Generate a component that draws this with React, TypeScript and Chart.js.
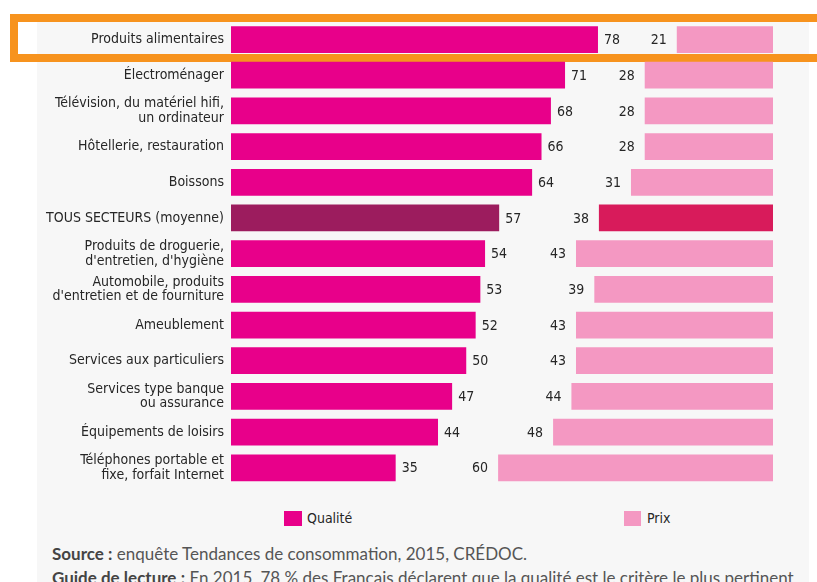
import React, { useEffect, useRef } from "react";
import { Chart, registerables } from "chart.js";

Chart.register(...registerables);

const categories: (string | string[])[] = [
  "Produits alimentaires",
  "Électroménager",
  ["Télévision, du matériel hifi,", "un ordinateur"],
  "Hôtellerie, restauration",
  "Boissons",
  "TOUS SECTEURS (moyenne)",
  ["Produits de droguerie,", "d'entretien, d'hygiène"],
  ["Automobile, produits", "d'entretien et de fourniture"],
  "Ameublement",
  "Services aux particuliers",
  ["Services type banque", "ou assurance"],
  "Équipements de loisirs",
  ["Téléphones portable et", "fixe, forfait Internet"],
];

const qualite = [78, 71, 68, 66, 64, 57, 54, 53, 52, 50, 47, 44, 35];
const prix = [21, 28, 28, 28, 31, 38, 43, 39, 43, 43, 44, 48, 60];
const highlightIndex = 5;

const seriesNames = ["Qualité", "Prix"];
const sourceLabel = "Source\u202F:";
const sourceText = " enquête Tendances de consommation, 2015, CRÉDOC.";
const guideLabel = "Guide de lecture\u202F:";
const guideText =
  " En 2015, 78 % des Français déclarent que la qualité est le critère le plus pertinent";

const COL_Q = "#e8008a";
const COL_Q_HI = "#9c1c5e";
const COL_P = "#f498c2";
const COL_P_HI = "#d81b5b";
const FONT = '"Liberation Sans Narrow", "DejaVu Sans Condensed", "Arial Narrow", sans-serif';
const TEXT_COL = "#262626";

const valueLabels = {
  id: "valueLabels",
  afterDatasetsDraw(chart: any) {
    const ctx = chart.ctx;
    ctx.save();
    ctx.font = `14px ${FONT}`;
    ctx.fillStyle = TEXT_COL;
    ctx.textBaseline = "middle";
    chart.data.datasets.forEach((ds: any, di: number) => {
      const meta = chart.getDatasetMeta(di);
      meta.data.forEach((bar: any, i: number) => {
        const v = ds.data[i];
        if (di === 0) {
          ctx.textAlign = "left";
          ctx.fillText(String(v), bar.x + 6, bar.y + 1);
        } else {
          ctx.textAlign = "right";
          ctx.fillText(String(v), bar.x - 10, bar.y + 1);
        }
      });
    });
    ctx.restore();
  },
};

export default function App() {
  const canvasRef = useRef<HTMLCanvasElement | null>(null);

  useEffect(() => {
    if (!canvasRef.current) return;
    const chart = new Chart(canvasRef.current, {
      type: "bar",
      data: {
        labels: categories as any,
        datasets: [
          {
            label: seriesNames[0],
            data: qualite,
            xAxisID: "x",
            backgroundColor: qualite.map((_, i) => (i === highlightIndex ? COL_Q_HI : COL_Q)),
            grouped: false,
            barPercentage: 0.75,
            categoryPercentage: 1,
          } as any,
          {
            label: seriesNames[1],
            data: prix,
            xAxisID: "x2",
            backgroundColor: prix.map((_, i) => (i === highlightIndex ? COL_P_HI : COL_P)),
            grouped: false,
            barPercentage: 0.75,
            categoryPercentage: 1,
          } as any,
        ],
      },
      options: {
        indexAxis: "y",
        animation: false,
        responsive: true,
        maintainAspectRatio: false,
        layout: { padding: { left: 0, right: 36, top: 19.7, bottom: 4.7 } },
        plugins: {
          legend: { display: false },
          tooltip: { enabled: false },
        },
        scales: {
          x: { type: "linear", min: 0, max: 115.2, display: false },
          x2: { type: "linear", min: 0, max: 118.3, reverse: true, display: false },
          y: {
            type: "category",
            grid: { display: false, drawTicks: false },
            border: { display: false },
            ticks: {
              autoSkip: false,
              padding: 7,
              color: TEXT_COL,
              font: { family: FONT, size: 14, lineHeight: 1.05 },
            },
            afterFit: (scale: any) => {
              scale.width = 194;
            },
          } as any,
        },
      } as any,
      plugins: [valueLabels],
    });
    return () => chart.destroy();
  }, []);

  const footStyle: React.CSSProperties = {
    position: "absolute",
    left: 52,
    fontFamily: "Lato, sans-serif",
    fontSize: 17,
    color: "#555555",
    whiteSpace: "nowrap",
    lineHeight: "20px",
  };

  return (
    <div
      style={{
        position: "fixed",
        left: 0,
        top: 0,
        width: 817,
        height: 582,
        overflow: "hidden",
        background: "#ffffff",
      }}
    >
      <div
        style={{
          position: "absolute",
          left: 37,
          top: 18,
          width: 772,
          height: 600,
          background: "#f7f7f7",
        }}
      />
      <div
        style={{
          position: "absolute",
          left: 10,
          top: 14,
          width: 830,
          height: 48,
          boxSizing: "border-box",
          border: "8px solid #f7931e",
        }}
      />
      <div style={{ position: "absolute", left: 37, top: 0, width: 772, height: 500 }}>
        <canvas ref={canvasRef} />
      </div>
      {/* legend */}
      <div style={{ position: "absolute", left: 284, top: 511, width: 18, height: 15, background: COL_Q }} />
      <div
        style={{
          position: "absolute",
          left: 307,
          top: 509,
          fontFamily: FONT,
          fontSize: 14,
          color: TEXT_COL,
          lineHeight: "18px",
        }}
      >
        {seriesNames[0]}
      </div>
      <div style={{ position: "absolute", left: 624, top: 511, width: 17, height: 15, background: COL_P }} />
      <div
        style={{
          position: "absolute",
          left: 647,
          top: 509,
          fontFamily: FONT,
          fontSize: 14,
          color: TEXT_COL,
          lineHeight: "18px",
        }}
      >
        {seriesNames[1]}
      </div>
      {/* footer */}
      <div style={{ ...footStyle, top: 544 }}>
        <b style={{ color: "#444" }}>{sourceLabel}</b>
        {sourceText}
      </div>
      <div style={{ ...footStyle, top: 568 }}>
        <b style={{ color: "#444" }}>{guideLabel}</b>
        {guideText}
      </div>
    </div>
  );
}
